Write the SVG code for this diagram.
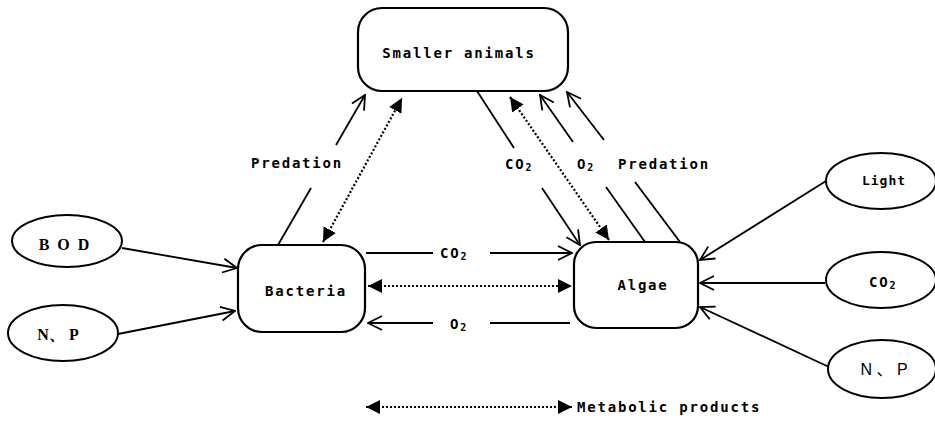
<svg xmlns="http://www.w3.org/2000/svg" width="935" height="422" viewBox="0 0 935 422">
<style>
.box{fill:#fff;stroke:#000;stroke-width:2.2}
.ell{fill:#fff;stroke:#000;stroke-width:2}
.ln{stroke:#000;stroke-width:1.8;fill:none}
.dot{stroke:#000;stroke-width:2.2;stroke-dasharray:2 2;fill:none}
.t{font-family:"DejaVu Sans Mono","Liberation Mono",monospace;font-weight:bold;font-size:14px;letter-spacing:1.8px;fill:#000}
.sub{font-size:10px}
.s{font-family:"Liberation Serif","Times New Roman",serif;font-weight:bold;font-size:16px;fill:#000}
.sa{font-family:"Liberation Sans","Noto Sans CJK SC",sans-serif;font-size:16px;fill:#000}
</style>
<defs>
<marker id="open" viewBox="0 0 16 16" refX="15" refY="8" markerWidth="16" markerHeight="16" markerUnits="userSpaceOnUse" orient="auto-start-reverse">
<path d="M1,1 L15,8 L1,15" fill="none" stroke="#000" stroke-width="1.8"/>
</marker>
<marker id="fill" viewBox="0 0 14 16" refX="14" refY="8" markerWidth="14" markerHeight="16" markerUnits="userSpaceOnUse" orient="auto-start-reverse">
<path d="M0,1 L14,8 L0,15 z" fill="#000"/>
</marker>
</defs>

<g id="connectors">
<line class="ln" x1="122" y1="248" x2="237" y2="268" marker-end="url(#open)"/>
<line class="ln" x1="118" y1="334" x2="235" y2="311" marker-end="url(#open)"/>
<line class="ln" x1="826" y1="181" x2="700" y2="260" marker-end="url(#open)"/>
<line class="ln" x1="825" y1="283" x2="700" y2="283" marker-end="url(#open)"/>
<line class="ln" x1="829" y1="367" x2="700" y2="307" marker-end="url(#open)"/>

<line class="ln" x1="366" y1="253" x2="433" y2="253"/>
<line class="ln" x1="490" y1="253" x2="572" y2="253" marker-end="url(#open)"/>
<line class="ln" x1="570" y1="323" x2="490" y2="323"/>
<line class="ln" x1="433" y1="323" x2="368" y2="323" marker-end="url(#open)"/>
<line class="dot" x1="368" y1="286" x2="572" y2="286" marker-start="url(#fill)" marker-end="url(#fill)"/>

<line class="ln" x1="278" y1="245" x2="311" y2="188"/>
<line class="ln" x1="336" y1="145" x2="365" y2="95" marker-end="url(#open)"/>
<line class="dot" x1="323" y1="242" x2="402" y2="98" marker-start="url(#fill)" marker-end="url(#fill)"/>

<line class="ln" x1="477" y1="91" x2="514" y2="148"/>
<line class="ln" x1="542" y1="188" x2="580" y2="245" marker-end="url(#open)"/>
<line class="dot" x1="510" y1="97" x2="609" y2="240" marker-start="url(#fill)" marker-end="url(#fill)"/>
<line class="ln" x1="645" y1="242" x2="606" y2="187"/>
<line class="ln" x1="573" y1="142" x2="540" y2="95" marker-end="url(#open)"/>
<line class="ln" x1="680" y1="242" x2="635" y2="182"/>
<line class="ln" x1="604" y1="140" x2="567" y2="92" marker-end="url(#open)"/>

<text class="t" x="297" y="168" text-anchor="middle">Predation</text>
<text class="t" x="664" y="169" text-anchor="middle">Predation</text>
<text class="t" x="505" y="169">CO<tspan class="sub" dy="2">2</tspan></text>
<text class="t" x="577" y="169">O<tspan class="sub" dy="2">2</tspan></text>
<text class="t" x="440" y="258">CO<tspan class="sub" dy="2">2</tspan></text>
<text class="t" x="450" y="329">O<tspan class="sub" dy="2">2</tspan></text>
</g>

<g id="smaller-animals">
<rect class="box" x="358" y="8" width="210" height="83" rx="24"/>
<text class="t" x="459" y="58" text-anchor="middle">Smaller animals</text>
</g>
<g id="bacteria">
<rect class="box" x="238" y="245" width="127" height="87" rx="24"/>
<text class="t" x="306" y="296" text-anchor="middle">Bacteria</text>
</g>
<g id="algae">
<rect class="box" x="574" y="242" width="124" height="86" rx="22"/>
<text class="t" x="643" y="290" text-anchor="middle">Algae</text>
</g>
<g id="bod">
<ellipse class="ell" cx="67" cy="241" rx="55" ry="26"/>
<text class="s" x="65" y="250" text-anchor="middle" style="letter-spacing:2px">B O D</text>
</g>
<g id="np-left">
<ellipse class="ell" cx="63" cy="333" rx="55" ry="28"/>
<text class="s" x="58" y="340" text-anchor="middle">N、 P</text>
</g>
<g id="light">
<ellipse class="ell" cx="881" cy="181" rx="55" ry="28"/>
<text class="t" x="884" y="185" text-anchor="middle" style="font-size:13px;letter-spacing:1px">Light</text>
</g>
<g id="co2-right">
<ellipse class="ell" cx="881" cy="280" rx="55" ry="28"/>
<text class="t" x="869" y="287">CO<tspan class="sub" dy="2">2</tspan></text>
</g>
<g id="np-right">
<ellipse class="ell" cx="882" cy="369" rx="54" ry="29"/>
<text class="sa" x="884" y="375" text-anchor="middle">N 、 P</text>
</g>

<g id="legend">
<line class="dot" x1="366" y1="407" x2="572" y2="407" marker-start="url(#fill)" marker-end="url(#fill)"/>
<text class="t" x="577" y="412">Metabolic products</text>
</g>
</svg>
